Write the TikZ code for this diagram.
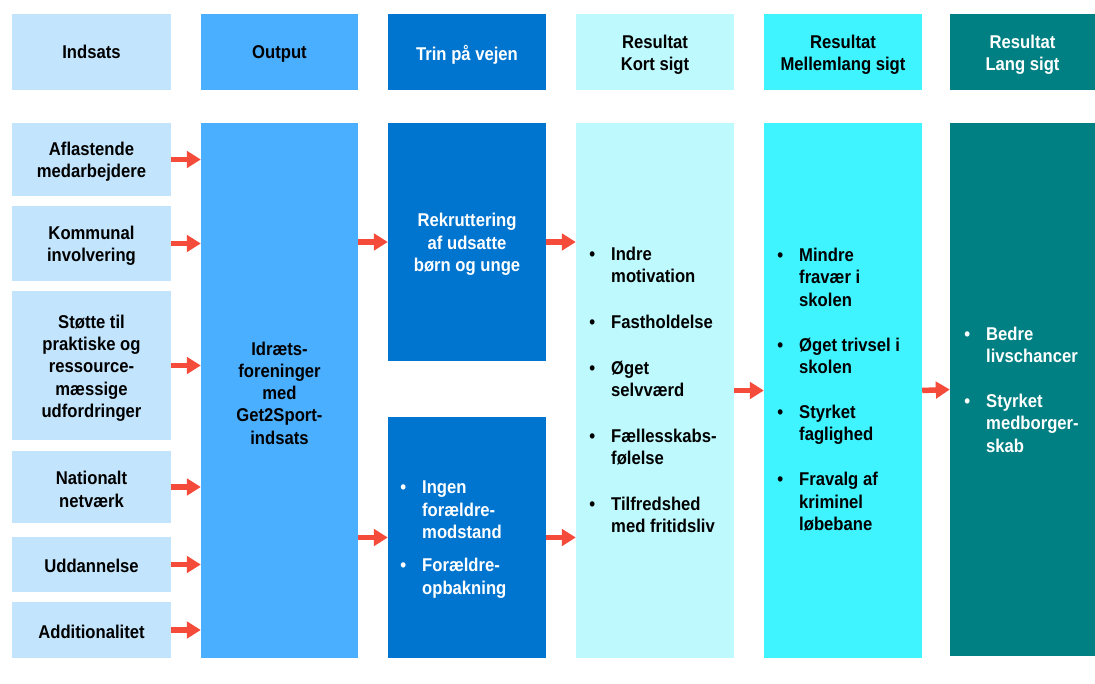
\documentclass[tikz,border=0pt]{standalone}
\usepackage{fontspec}
\setmainfont[FakeStretch=0.9]{Liberation Sans}
\usetikzlibrary{arrows.meta}
\definecolor{cin}{HTML}{C2E4FC}
\definecolor{cout}{HTML}{4BAFFF}
\definecolor{ctrin}{HTML}{0075D0}
\definecolor{ckort}{HTML}{BDF9FD}
\definecolor{cmel}{HTML}{3FF3FF}
\definecolor{clang}{HTML}{008082}
\definecolor{carrow}{HTML}{F44B3A}
\newcommand\mybul{\llap{\textbullet\hspace{16pt}}}
\begin{document}
\begin{tikzpicture}[x=1pt,y=-1pt,
  font=\bfseries\fontsize{18.5}{22.3}\selectfont,
  bx/.style n args={2}{rectangle, minimum width=#1pt, minimum height=#2pt, inner sep=0pt},
  tx/.style={inner sep=0pt, align=center, yshift=-2.5pt},
  lst/.style={inner sep=0pt, anchor=west, align=left},
  arr/.style={draw=carrow, line width=5.5pt, -{Triangle[length=14pt,width=16.5pt]}}]
\useasboundingbox[fill=white] (0,0) rectangle (1095,684);
% headers
\node[bx={159}{76}, fill=cin] (h1) at (91.5,52) {};
\node[tx, yshift=2.5pt] (h1t) at (h1) {Indsats};
\node[bx={157}{76}, fill=cout] (h2) at (279.5,52) {};
\node[tx, yshift=1pt] (h2t) at (h2) {Output};
\node[bx={158}{76}, fill=ctrin] (h3) at (467,52) {};
\node[tx, text=white] (h3t) at (h3) {Trin på vejen};
\node[bx={158}{76}, fill=ckort] (h4) at (655,52) {};
\node[tx] (h4t) at (h4) {Resultat\\Kort sigt};
\node[bx={158}{76}, fill=cmel] (h5) at (843,52) {};
\node[tx] (h5t) at (h5) {Resultat\\Mellemlang sigt};
\node[bx={145}{76}, fill=clang] (h6) at (1022.5,52) {};
\node[tx, text=white] (h6t) at (h6) {Resultat\\Lang sigt};
% inputs
\node[bx={159}{73}, fill=cin] (a1) at (91.5,159.5) {};
\node[tx] (a1t) at (a1) {Aflastende\\medarbejdere};
\node[bx={159}{75}, fill=cin] (a2) at (91.5,243.5) {};
\node[tx] (a2t) at (a2) {Kommunal\\involvering};
\node[bx={159}{149}, fill=cin] (a3) at (91.5,365.5) {};
\node[tx] (a3t) at (a3) {Støtte til\\praktiske og\\ressource-\\mæssige\\udfordringer};
\node[bx={159}{72}, fill=cin] (a4) at (91.5,487) {};
\node[tx] (a4t) at (a4) {Nationalt\\netværk};
\node[bx={159}{55}, fill=cin] (a5) at (91.5,564.5) {};
\node[tx, yshift=1pt] (a5t) at (a5) {Uddannelse};
\node[bx={159}{56}, fill=cin] (a6) at (91.5,630) {};
\node[tx, yshift=1pt] (a6t) at (a6) {Additionalitet};
% output
\node[bx={157}{535}, fill=cout] (out) at (279.5,390.5) {};
\node[tx] (outt) at (out) {Idræts-\\foreninger\\med\\Get2Sport-\\indsats};
% trin
\node[bx={158}{238}, fill=ctrin] (t1) at (467,242) {};
\node[tx, text=white] (t1t) at (t1) {Rekruttering\\af udsatte\\børn og unge};
\node[bx={158}{241}, fill=ctrin] (t2) at (467,537.5) {};
\node[lst, text=white] (t2t) at (422,539.5) {\mybul Ingen\\forældre-\\modstand\\[11pt]\mybul Forældre-\\opbakning};
% kort
\node[bx={158}{535}, fill=ckort] (k) at (655,390.5) {};
\node[lst] (kt) at (611,390) {\mybul Indre\\motivation\\[23.5pt]\mybul Fastholdelse\\[23.5pt]\mybul Øget\\selvværd\\[23.5pt]\mybul Fællesskabs-\\følelse\\[23.5pt]\mybul Tilfredshed\\med fritidsliv};
% mellem
\node[bx={158}{535}, fill=cmel] (m) at (843,390.5) {};
\node[lst] (mt) at (799,389.5) {\mybul Mindre\\fravær i\\skolen\\[22.7pt]\mybul Øget trivsel i\\skolen\\[22.7pt]\mybul Styrket\\faglighed\\[22.7pt]\mybul Fravalg af\\kriminel\\løbebane};
% lang
\node[bx={145}{533}, fill=clang] (l) at (1022.5,389.5) {};
\node[lst, text=white] (lt) at (986,389.5) {\mybul Bedre\\livschancer\\[22.7pt]\mybul Styrket\\medborger-\\skab};
% arrows
\foreach \n in {a1,a2,a3,a4,a5,a6}
  \draw[arr] (\n.east) -- (out.west |- \n.east);
\draw[arr] (out.east |- t1.west) -- (t1.west);
\draw[arr] (out.east |- t2.west) -- (t2.west);
\draw[arr] (t1.east) -- (k.west |- t1.east);
\draw[arr] (t2.east) -- (k.west |- t2.east);
\draw[arr] (k.east) -- (m.west);
\draw[arr] (m.east) -- (l.west);
\end{tikzpicture}
\end{document}
